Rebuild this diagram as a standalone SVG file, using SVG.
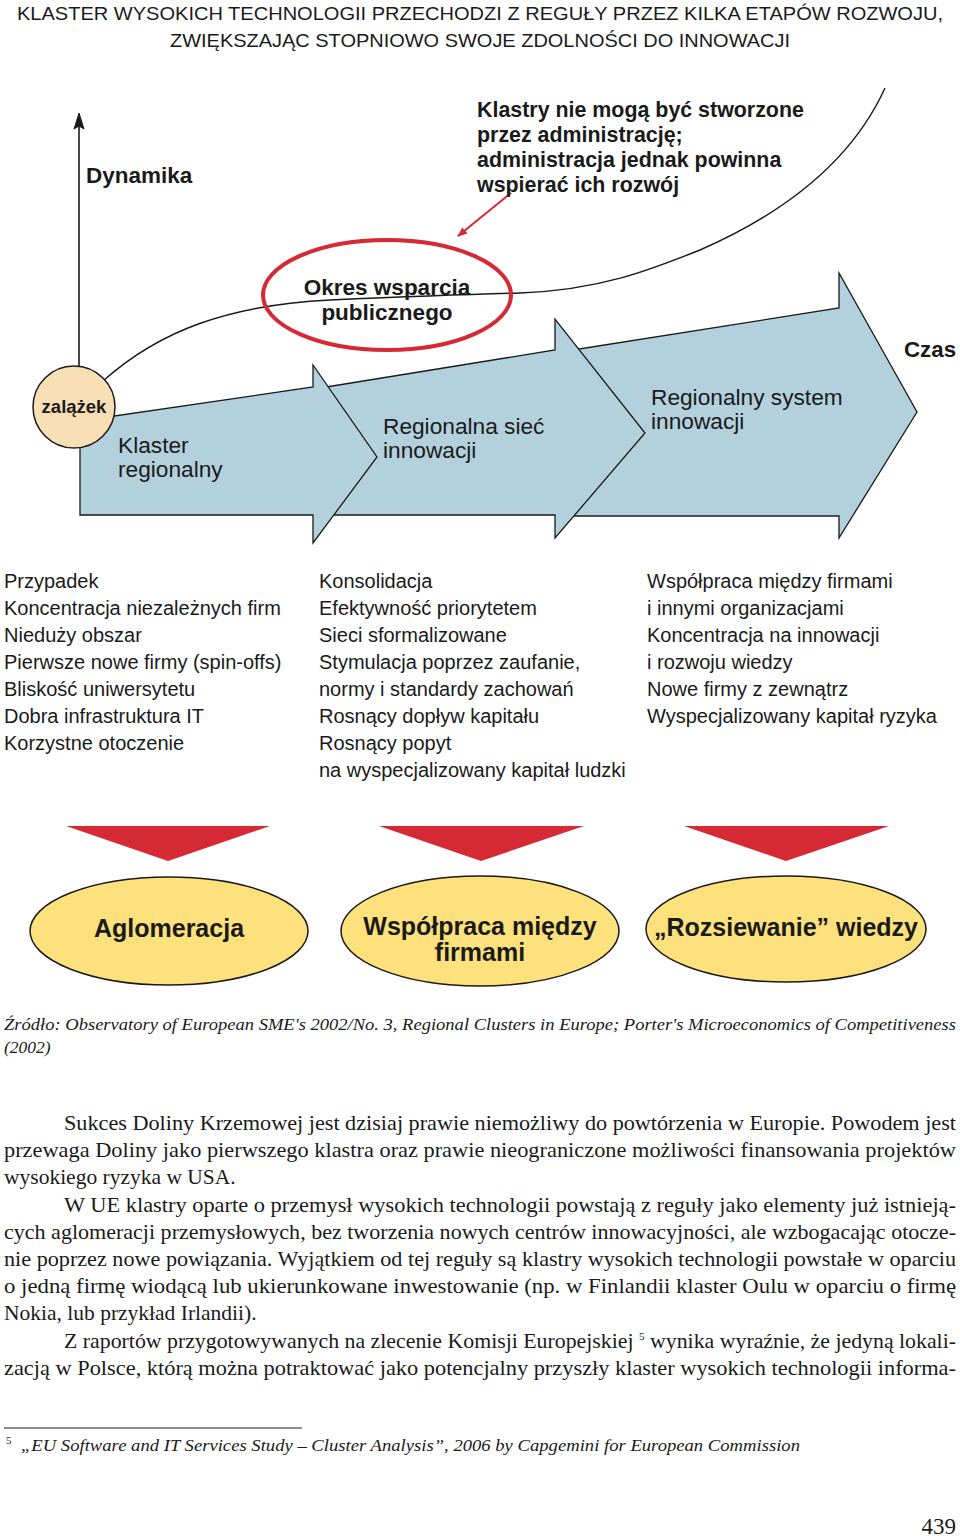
<svg xmlns="http://www.w3.org/2000/svg" width="960" height="1536" viewBox="0 0 960 1536">
<style>
.t{font-family:"Liberation Sans",Arial,sans-serif;fill:#1a1a1a}
.b{font-weight:bold}
.c{text-anchor:middle}
.arr{fill:#b3d0dd;stroke:#1a1a1a;stroke-width:1.3;stroke-linejoin:miter}
.col{font-family:"Liberation Sans",Arial,sans-serif;font-size:20px;fill:#1a1a1a}
.tri{fill:#d52a33}
.yel{fill:#fce17c;stroke:#1a1a1a;stroke-width:1.5}
.body{font-family:"Liberation Serif","Times New Roman",serif;font-size:21.5px;fill:#1a1a1a}
.it{font-family:"Liberation Serif","Times New Roman",serif;font-style:italic;fill:#1a1a1a}
</style>
<defs>
<marker id="redhead" markerWidth="10" markerHeight="10" refX="9" refY="5" orient="auto" markerUnits="userSpaceOnUse">
<path d="M0,1 L10,5 L0,9 Z" fill="#d52a33"/>
</marker>
</defs>
<rect width="960" height="1536" fill="#ffffff"/>

<g id="title">
<text class="t" x="480" y="20" font-size="19" text-anchor="middle" textLength="926" lengthAdjust="spacingAndGlyphs">KLASTER WYSOKICH TECHNOLOGII PRZECHODZI Z REGUŁY PRZEZ KILKA ETAPÓW ROZWOJU,</text>
<text class="t" x="480" y="47" font-size="19" text-anchor="middle" textLength="620" lengthAdjust="spacingAndGlyphs">ZWIĘKSZAJĄC STOPNIOWO SWOJE ZDOLNOŚCI DO INNOWACJI</text>
</g>

<g id="arrows">
<polygon id="arrow3" class="arr" points="560,352 839,308 839,273 917,412 839,538 839,516 560,516"/>
<polygon id="arrow2" class="arr" points="320,388 555,350 555,319 645,433 555,538 555,515 320,515"/>
<polygon id="arrow1" class="arr" points="80,421 313,387 313,365 377,457 313,543 313,515 80,515"/>
</g>

<g id="connectors" fill="none" stroke="#1a1a1a">
<line x1="79" y1="120" x2="79" y2="367" stroke-width="1.6"/>
<path d="M79,113 L74,129 L79,126 L84,129 Z" fill="#1a1a1a" stroke-width="1"/>
<path d="M103,381 C160,330 230,305 330,300 C420,296 480,294 520,293 C600,290 650,270 700,250 C780,215 850,165 885,88" stroke-width="1.4"/>
<line x1="511" y1="193" x2="458" y2="236" stroke="#d52a33" stroke-width="2" marker-end="url(#redhead)"/>
</g>

<g id="zalazek">
<circle cx="74" cy="407" r="41" fill="#f8dfb5" stroke="#1a1a1a" stroke-width="1.5"/>
<text class="t b c" x="74" y="413" font-size="18.5">zalążek</text>
</g>

<g id="axis-labels">
<text class="t b" x="86" y="183" font-size="22.5">Dynamika</text>
<text class="t b" x="904" y="357" font-size="22.3">Czas</text>
</g>

<g id="note">
<text class="t b" x="477" y="117" font-size="21.4">Klastry nie mogą być stworzone</text>
<text class="t b" x="477" y="142" font-size="21.4">przez administrację;</text>
<text class="t b" x="477" y="167" font-size="21.4">administracja jednak powinna</text>
<text class="t b" x="477" y="192" font-size="21.4">wspierać ich rozwój</text>
</g>

<g id="okres">
<ellipse cx="387" cy="295" rx="124" ry="55" fill="none" stroke="#d52a33" stroke-width="4"/>
<text class="t b c" x="387" y="295" font-size="22.5">Okres wsparcia</text>
<text class="t b c" x="387" y="320" font-size="22.5">publicznego</text>
</g>

<g id="stage-labels">
<text class="t" x="118" y="453" font-size="22.7">Klaster</text>
<text class="t" x="118" y="477" font-size="22.7">regionalny</text>
<text class="t" x="383" y="434" font-size="22.7">Regionalna sieć</text>
<text class="t" x="383" y="458" font-size="22.7">innowacji</text>
<text class="t" x="651" y="405" font-size="22.7">Regionalny system</text>
<text class="t" x="651" y="429" font-size="22.7">innowacji</text>
</g>

<g id="column1">
<text class="col" x="4" y="588">Przypadek</text>
<text class="col" x="4" y="615">Koncentracja niezależnych firm</text>
<text class="col" x="4" y="642">Nieduży obszar</text>
<text class="col" x="4" y="669">Pierwsze nowe firmy (spin-offs)</text>
<text class="col" x="4" y="696">Bliskość uniwersytetu</text>
<text class="col" x="4" y="723">Dobra infrastruktura IT</text>
<text class="col" x="4" y="750">Korzystne otoczenie</text>
</g>
<g id="column2">
<text class="col" x="319" y="588">Konsolidacja</text>
<text class="col" x="319" y="615">Efektywność priorytetem</text>
<text class="col" x="319" y="642">Sieci sformalizowane</text>
<text class="col" x="319" y="669">Stymulacja poprzez zaufanie,</text>
<text class="col" x="319" y="696">normy i standardy zachowań</text>
<text class="col" x="319" y="723">Rosnący dopływ kapitału</text>
<text class="col" x="319" y="750">Rosnący popyt</text>
<text class="col" x="319" y="777">na wyspecjalizowany kapitał ludzki</text>
</g>
<g id="column3">
<text class="col" x="647" y="588">Współpraca między firmami</text>
<text class="col" x="647" y="615">i innymi organizacjami</text>
<text class="col" x="647" y="642">Koncentracja na innowacji</text>
<text class="col" x="647" y="669">i rozwoju wiedzy</text>
<text class="col" x="647" y="696">Nowe firmy z zewnątrz</text>
<text class="col" x="647" y="723">Wyspecjalizowany kapitał ryzyka</text>
</g>

<g id="triangles">
<polygon class="tri" points="66,826 270,826 168,861"/>
<polygon class="tri" points="379,826 584,826 481,861"/>
<polygon class="tri" points="684,826 889,826 786,861"/>
</g>

<g id="aglomeracja">
<ellipse class="yel" cx="169" cy="931" rx="139" ry="54"/>
<text class="t b c" x="169" y="937" font-size="25">Aglomeracja</text>
</g>
<g id="wspolpraca">
<ellipse class="yel" cx="480" cy="931" rx="139" ry="55"/>
<text class="t b c" x="480" y="935" font-size="25">Współpraca między</text>
<text class="t b c" x="480" y="961" font-size="25">firmami</text>
</g>
<g id="rozsiewanie">
<ellipse class="yel" cx="786" cy="929" rx="140" ry="53"/>
<text class="t b c" x="786" y="936" font-size="25">„Rozsiewanie” wiedzy</text>
</g>

<g id="source">
<text class="it" x="4" y="1030" font-size="17.5" textLength="952" lengthAdjust="spacingAndGlyphs">Źródło: Observatory of European SME's 2002/No. 3, Regional Clusters in Europe; Porter's Microeconomics of Competitiveness</text>
<text class="it" x="4" y="1053" font-size="17.5">(2002)</text>
</g>

<g id="bodytext">
<text class="body" x="64" y="1130" textLength="892" lengthAdjust="spacingAndGlyphs">Sukces Doliny Krzemowej jest dzisiaj prawie niemożliwy do powtórzenia w Europie. Powodem jest</text>
<text class="body" x="4" y="1157" textLength="952" lengthAdjust="spacingAndGlyphs">przewaga Doliny jako pierwszego klastra oraz prawie nieograniczone możliwości finansowania projektów</text>
<text class="body" x="4" y="1184">wysokiego ryzyka w USA.</text>
<text class="body" x="64" y="1212" textLength="892" lengthAdjust="spacingAndGlyphs">W UE klastry oparte o przemysł wysokich technologii powstają z reguły jako elementy już istnieją-</text>
<text class="body" x="4" y="1239" textLength="952" lengthAdjust="spacingAndGlyphs">cych aglomeracji przemysłowych, bez tworzenia nowych centrów innowacyjności, ale wzbogacając otocze-</text>
<text class="body" x="4" y="1266" textLength="952" lengthAdjust="spacingAndGlyphs">nie poprzez nowe powiązania. Wyjątkiem od tej reguły są klastry wysokich technologii powstałe w oparciu</text>
<text class="body" x="4" y="1293" textLength="952" lengthAdjust="spacingAndGlyphs">o jedną firmę wiodącą lub ukierunkowane inwestowanie (np. w Finlandii klaster Oulu w oparciu o firmę</text>
<text class="body" x="4" y="1320">Nokia, lub przykład Irlandii).</text>
<text class="body" x="64" y="1348" textLength="892" lengthAdjust="spacingAndGlyphs">Z raportów przygotowywanych na zlecenie Komisji Europejskiej <tspan font-size="11" dy="-8">5</tspan><tspan dy="8"> wynika wyraźnie, że jedyną lokali-</tspan></text>
<text class="body" x="4" y="1375" textLength="952" lengthAdjust="spacingAndGlyphs">zacją w Polsce, którą można potraktować jako potencjalny przyszły klaster wysokich technologii informa-</text>
</g>

<g id="footnote">
<line x1="4" y1="1428" x2="302" y2="1428" stroke="#1a1a1a" stroke-width="1"/>
<text x="6" y="1444" style="font-family:'Liberation Serif','Times New Roman',serif;font-size:11px;fill:#1a1a1a">5</text>
<text class="it" x="21" y="1451" font-size="17.5" textLength="779" lengthAdjust="spacingAndGlyphs">„EU Software and IT Services Study – Cluster Analysis”, 2006 by Capgemini for European Commission</text>
</g>

<g id="page">
<text x="956" y="1534" text-anchor="end" style="font-family:'Liberation Serif','Times New Roman',serif;font-size:23px;fill:#1a1a1a">439</text>
</g>
</svg>
